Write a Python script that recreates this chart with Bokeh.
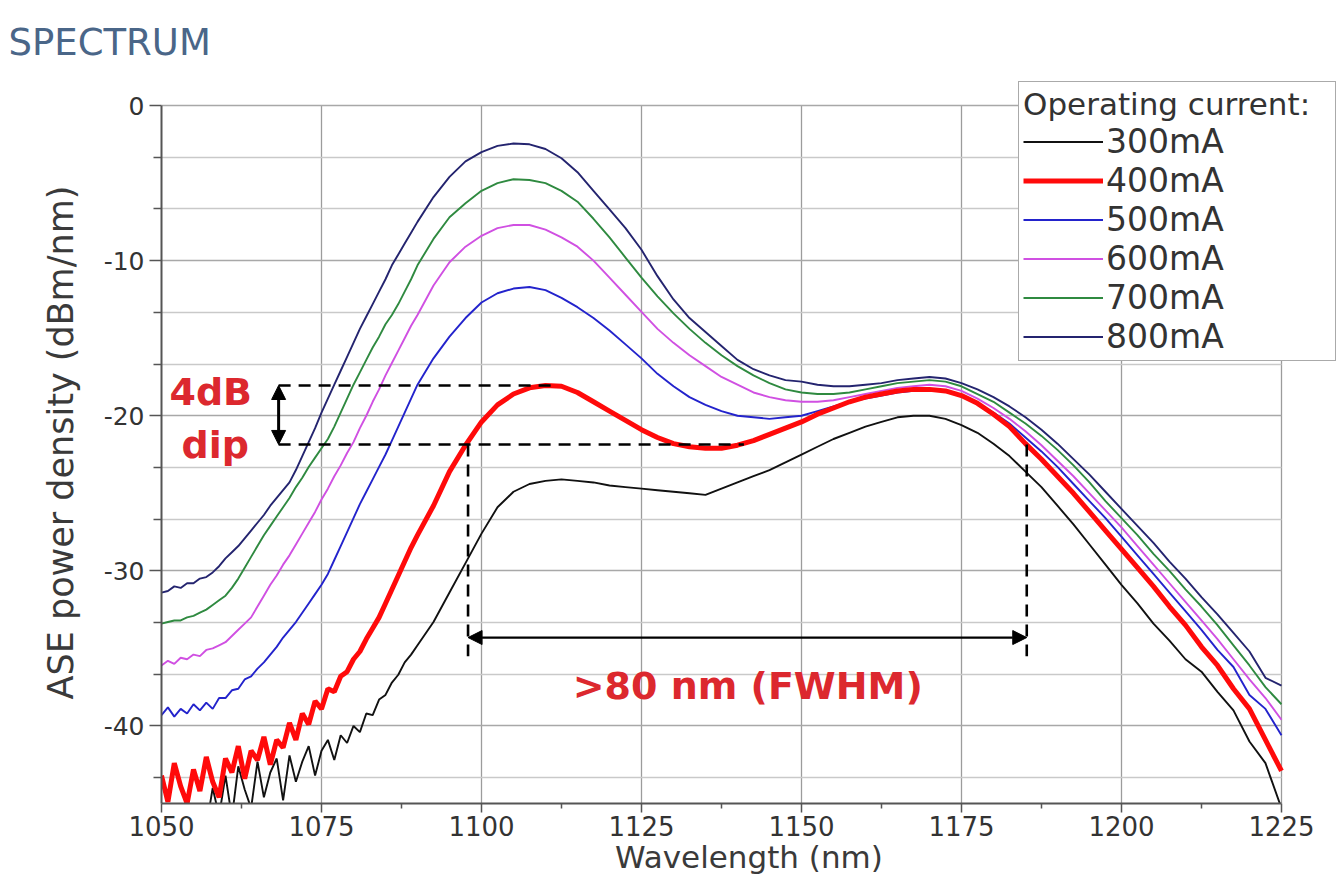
from bokeh.plotting import figure
from bokeh.models import (FixedTicker, Legend, LegendItem, Arrow, NormalHead, Label, Range1d,
                          PrintfTickFormatter, Grid)
from bokeh.embed import file_html
from bokeh.resources import INLINE

FONT = "DejaVu Sans"

# ---------------- data ----------------
wl_fine = list(range(1050, 1091))                      # 1 nm steps (noisy part)
wl_coarse = [1092.5 + 2.5 * i for i in range(54)]      # 2.5 nm steps
wavelength = wl_fine + wl_coarse

ase_800 = [-31.4, -31.3, -31.0, -31.1, -30.8, -30.8, -30.5, -30.4, -30.1, -29.7,
           -29.2, -28.8, -28.4, -27.9, -27.4, -26.9, -26.4, -25.8, -25.3, -24.8,
           -24.3, -23.5, -22.6, -21.7, -20.8, -19.8, -18.9, -18.0, -17.1, -16.2,
           -15.3, -14.4, -13.6, -12.8, -12.0, -11.2, -10.3, -9.6, -8.9, -8.2,
           -7.5] + \
          [-5.9, -4.6, -3.6, -3.0, -2.6, -2.45, -2.5, -2.8, -3.4, -4.3,
           -5.5, -6.7, -7.9, -9.3, -11.0, -12.5, -13.7, -14.6, -15.5, -16.4,
           -17.0, -17.4, -17.7, -17.8, -18.0, -18.1, -18.1, -18.0, -17.9, -17.7,
           -17.6, -17.5, -17.6, -17.9, -18.3, -18.8, -19.4, -20.1, -20.9, -21.8,
           -22.8, -23.8, -24.9, -26.0, -27.1, -28.2, -29.4, -30.5, -31.7, -32.8,
           -34.0, -35.2, -36.9, -37.4]

ase_700 = [-33.4, -33.3, -33.2, -33.2, -33.0, -32.9, -32.7, -32.5, -32.2, -31.9,
           -31.6, -31.1, -30.5, -29.8, -29.1, -28.4, -27.7, -27.1, -26.5, -25.9,
           -25.3, -24.6, -24.0, -23.3, -22.7, -22.1, -21.5, -20.7, -19.8, -18.9,
           -18.0, -17.2, -16.4, -15.6, -14.9, -14.1, -13.5, -12.8, -12.0, -11.2,
           -10.3] + \
          [-8.6, -7.2, -6.3, -5.5, -5.0, -4.75, -4.8, -5.0, -5.5, -6.2,
           -7.3, -8.5, -9.8, -11.1, -12.3, -13.4, -14.4, -15.3, -16.1, -16.8,
           -17.4, -17.9, -18.3, -18.5, -18.6, -18.6, -18.5, -18.3, -18.1, -17.9,
           -17.8, -17.7, -17.8, -18.1, -18.6, -19.1, -19.8, -20.5, -21.3, -22.2,
           -23.2, -24.3, -25.5, -26.6, -27.7, -28.9, -30.0, -31.2, -32.3, -33.5,
           -34.8, -36.1, -37.5, -38.6]

ase_600 = [-36.1, -35.8, -36.0, -35.6, -35.7, -35.4, -35.5, -35.1, -35.0, -34.8,
           -34.6, -34.2, -33.8, -33.4, -33.0, -32.3, -31.6, -30.9, -30.3, -29.6,
           -29.0, -28.3, -27.6, -26.9, -26.2, -25.4, -24.7, -23.9, -23.2, -22.4,
           -21.7, -20.8, -20.0, -19.1, -18.3, -17.4, -16.6, -15.8, -15.0, -14.2,
           -13.5] + \
          [-11.6, -10.1, -9.1, -8.4, -7.9, -7.7, -7.7, -8.0, -8.5, -9.1,
           -10.0, -11.1, -12.2, -13.3, -14.4, -15.3, -16.1, -16.8, -17.5, -18.0,
           -18.5, -18.8, -19.0, -19.1, -19.1, -19.0, -18.8, -18.6, -18.4, -18.2,
           -18.1, -18.0, -18.1, -18.4, -18.9, -19.5, -20.2, -21.0, -21.9, -22.9,
           -23.9, -25.0, -26.1, -27.2, -28.4, -29.6, -30.8, -32.0, -33.2, -34.4,
           -35.7, -37.0, -38.2, -39.6]

ase_500 = [-39.3, -38.8, -39.4, -38.9, -39.2, -38.6, -39.0, -38.5, -38.9, -38.2,
           -38.2, -37.7, -37.6, -37.0, -36.8, -36.3, -35.9, -35.4, -34.9, -34.3,
           -33.8, -33.3, -32.7, -32.1, -31.5, -30.9, -30.2, -29.3, -28.4, -27.5,
           -26.6, -25.7, -24.9, -24.1, -23.3, -22.5, -21.6, -20.7, -19.8, -18.9,
           -18.0] + \
          [-16.3, -14.9, -13.7, -12.7, -12.1, -11.8, -11.7, -11.9, -12.4, -13.0,
           -13.7, -14.5, -15.4, -16.3, -17.3, -18.1, -18.8, -19.3, -19.7, -20.0,
           -20.1, -20.2, -20.1, -20.0, -19.7, -19.4, -19.1, -18.9, -18.7, -18.5,
           -18.4, -18.3, -18.4, -18.7, -19.2, -19.8, -20.5, -21.4, -22.3, -23.3,
           -24.4, -25.5, -26.6, -27.8, -29.0, -30.2, -31.4, -32.6, -33.8, -35.1,
           -36.2, -38.0, -38.9, -40.6]

ase_400 = [-43.2, -44.9, -42.4, -43.9, -45.0, -42.8, -44.2, -42.0, -43.6, -44.6,
           -42.1, -43.0, -41.3, -43.4, -41.6, -42.2, -40.7, -42.5, -40.9, -41.4,
           -39.8, -40.9, -39.2, -39.9, -38.4, -38.9, -37.6, -37.8, -36.8, -36.5,
           -35.7, -35.2, -34.4, -33.7, -33.0, -32.1, -31.2, -30.3, -29.4, -28.5,
           -27.7] + \
          [-25.8, -23.6, -21.9, -20.4, -19.3, -18.6, -18.2, -18.05, -18.1, -18.5,
           -19.1, -19.7, -20.3, -20.9, -21.4, -21.8, -22.0, -22.1, -22.1, -21.9,
           -21.6, -21.2, -20.8, -20.4, -19.9, -19.5, -19.1, -18.8, -18.6, -18.4,
           -18.3, -18.3, -18.4, -18.7, -19.2, -19.9, -20.7, -21.8, -22.8, -23.9,
           -25.0, -26.2, -27.4, -28.6, -29.8, -31.0, -32.3, -33.5, -34.9, -36.1,
           -37.6, -38.9, -40.9, -42.9]

ase_300 = [-46.5, -47.0, -46.0, -47.0, -46.2, -46.8, -45.5, -46.5, -44.0, -45.8,
           -43.2, -45.9, -42.6, -44.1, -45.3, -42.3, -44.6, -43.0, -42.1, -44.8,
           -41.9, -43.6, -42.3, -41.3, -43.2, -41.6, -40.9, -42.2, -40.6, -41.1,
           -40.0, -40.4, -39.2, -39.3, -38.3, -38.0, -37.2, -36.7, -35.9, -35.4,
           -34.8] + \
          [-33.3, -31.4, -29.5, -27.6, -25.9, -24.9, -24.4, -24.2, -24.1, -24.2,
           -24.3, -24.5, -24.6, -24.7, -24.8, -24.9, -25.0, -25.1, -24.7, -24.3,
           -23.9, -23.5, -23.0, -22.5, -22.0, -21.5, -21.1, -20.7, -20.4, -20.1,
           -20.0, -20.0, -20.2, -20.6, -21.1, -21.8, -22.6, -23.6, -24.6, -25.8,
           -27.0, -28.3, -29.6, -30.9, -32.1, -33.4, -34.5, -35.7, -36.5, -37.8,
           -39.0, -41.0, -42.4, -45.3]

currents = ["300mA", "400mA", "500mA", "600mA", "700mA", "800mA"]
colors = ["#111111", "#ff0a0a", "#2323cc", "#d050e2", "#2f8a40", "#24246f"]

x_ticks = [1050, 1075, 1100, 1125, 1150, 1175, 1200, 1225]
x_minor = [1062.5, 1087.5, 1112.5, 1137.5, 1162.5, 1187.5, 1212.5]
y_ticks = [-40, -30, -20, -10, 0]
y_minor = [-43.333, -36.667, -33.333, -26.667, -23.333, -16.667, -13.333, -6.667, -3.333]
x_limits = (1050, 1225)
y_limits = (-45, 0)

# annotation values
dip_top = -18.05
dip_bottom = -21.85
dip_arrow_nm = 1068.3
dip_top_end_nm = 1111.5
dip_bottom_end_nm = 1141.0
fwhm_left_nm = 1097.9
fwhm_right_nm = 1185.2
fwhm_arrow_level = -34.3
fwhm_dash_bottom = -35.5

# ---------------- figure ----------------
# the frame is a little larger than the axes so that the legend box fits inside it
p = figure(width=1341, height=883, output_backend="svg", toolbar_location=None,
           x_range=Range1d(1050, 1233.6), y_range=Range1d(-45, 1.55),
           min_border_left=161, min_border_right=5, min_border_top=81, min_border_bottom=80)
p.background_fill_color = "white"
p.border_fill_color = "white"
p.outline_line_color = None

p.title.text = "SPECTRUM"
p.title.text_font = FONT
p.title.text_font_size = "37px"
p.title.text_font_style = "normal"
p.title.text_color = "#4a6688"
p.title.align = "left"
p.title.offset = -153
p.title.standoff = 36

p.xaxis.ticker = FixedTicker(ticks=x_ticks, minor_ticks=x_minor)
p.yaxis.ticker = FixedTicker(ticks=y_ticks, minor_ticks=y_minor)
p.xaxis.formatter = PrintfTickFormatter(format="%d")
p.yaxis.formatter = PrintfTickFormatter(format="%d")
p.xaxis.bounds = x_limits
p.yaxis.bounds = y_limits

for ax in (p.xaxis[0], p.yaxis[0]):
    ax.axis_line_color = "#555555"
    ax.axis_line_width = 2
    ax.major_tick_line_color = "#555555"
    ax.major_tick_line_width = 1.5
    ax.minor_tick_line_color = "#555555"
    ax.minor_tick_line_width = 1.5
    ax.major_tick_in = 0
    ax.minor_tick_in = 0
    ax.major_label_text_font = FONT
    ax.major_label_text_color = "#333333"
    ax.axis_label_text_font = FONT
    ax.axis_label_text_font_style = "normal"
    ax.axis_label_text_color = "#3a3a3a"

p.xaxis.major_tick_out = 9
p.xaxis.minor_tick_out = 5
p.xaxis.major_label_text_font_size = "26px"
p.xaxis.major_label_standoff = 3
p.xaxis.axis_label = "Wavelength (nm)"
p.xaxis.axis_label_text_font_size = "31px"
p.xaxis.axis_label_standoff = 0

p.yaxis.major_tick_out = 12
p.yaxis.minor_tick_out = 8
p.yaxis.major_label_text_font_size = "25px"
p.yaxis.major_label_standoff = 5
p.yaxis.axis_label = "ASE power density (dBm/nm)"
p.yaxis.axis_label_text_font_size = "35px"
p.yaxis.axis_label_standoff = 20

p.xgrid.grid_line_color = "#9c9c9c"
p.xgrid.grid_line_width = 1.3
p.ygrid.grid_line_color = "#a8a8a8"
p.ygrid.grid_line_width = 1.6
p.ygrid.minor_grid_line_color = "#c9c9c9"
p.ygrid.minor_grid_line_width = 1.4
if "cross_bounds" in Grid.properties():
    p.xgrid.cross_bounds = y_limits
    p.ygrid.cross_bounds = x_limits
else:
    # fall back: draw the grid lines only inside the axes box
    p.xgrid.visible = False
    p.ygrid.visible = False
    p.segment(x0=x_ticks, y0=[y_limits[0]] * len(x_ticks), x1=x_ticks, y1=[y_limits[1]] * len(x_ticks),
              line_color="#9c9c9c", line_width=1.3)
    p.segment(x0=[x_limits[0]] * len(y_minor), y0=y_minor, x1=[x_limits[1]] * len(y_minor), y1=y_minor,
              line_color="#c9c9c9", line_width=1.4)
    p.segment(x0=[x_limits[0]] * len(y_ticks), y0=y_ticks, x1=[x_limits[1]] * len(y_ticks), y1=y_ticks,
              line_color="#a8a8a8", line_width=1.6)

# ---------------- curves ----------------
series = {"300mA": ase_300, "400mA": ase_400, "500mA": ase_500,
          "600mA": ase_600, "700mA": ase_700, "800mA": ase_800}
renderers = {}
draw_order = ["800mA", "700mA", "600mA", "500mA", "300mA", "400mA"]
for name in draw_order:
    i = currents.index(name)
    lw = 5 if name == "400mA" else 1.9
    renderers[name] = p.line(wavelength, series[name], line_color=colors[i], line_width=lw)

# ---------------- annotations ----------------
dash = dict(line_color="black", line_width=2.6, line_dash="12 8")
p.segment(x0=[dip_arrow_nm, dip_arrow_nm], y0=[dip_top, dip_bottom],
          x1=[dip_top_end_nm, dip_bottom_end_nm], y1=[dip_top, dip_bottom], **dash)
p.segment(x0=[fwhm_left_nm, fwhm_right_nm], y0=[dip_bottom, dip_bottom],
          x1=[fwhm_left_nm, fwhm_right_nm], y1=[fwhm_dash_bottom, fwhm_dash_bottom], **dash)

def head():
    return NormalHead(size=14, fill_color="black", line_color="black", line_width=1)

p.add_layout(Arrow(start=head(), end=head(), x_start=dip_arrow_nm, y_start=dip_bottom,
                   x_end=dip_arrow_nm, y_end=dip_top, line_width=3, line_color="black"))
p.add_layout(Arrow(start=head(), end=head(), x_start=fwhm_left_nm, y_start=fwhm_arrow_level,
                   x_end=fwhm_right_nm, y_end=fwhm_arrow_level, line_width=2.2, line_color="black"))

red_txt = "#dc282e"
for txt, xx, yy in [("4dB", 1057.7, -18.45), ("dip", 1058.4, -21.9),
                    (">80 nm (FWHM)", 1141.6, -37.4)]:
    p.add_layout(Label(x=xx, y=yy, text=txt, text_align="center", text_baseline="middle",
                       text_font=FONT, text_font_style="bold",
                       text_font_size="38px", text_color=red_txt))

# ---------------- legend ----------------
items = [LegendItem(label=c, renderers=[renderers[c]]) for c in currents]
legend = Legend(items=items, location="top_right", title="Operating current:",
                title_text_font=FONT, title_text_font_size="31px",
                title_text_font_style="normal", title_text_color="#333333", title_standoff=0,
                label_text_font=FONT, label_text_font_size="33px", label_text_color="#333333",
                glyph_width=80, glyph_height=37, label_height=37, label_width=225,
                label_standoff=3, spacing=0, padding=4, margin=0,
                border_line_color="#555555", border_line_width=1.5,
                background_fill_color="white", background_fill_alpha=1.0)
p.add_layout(legend, "center")

open("out.html", "w").write(file_html(p, INLINE))
